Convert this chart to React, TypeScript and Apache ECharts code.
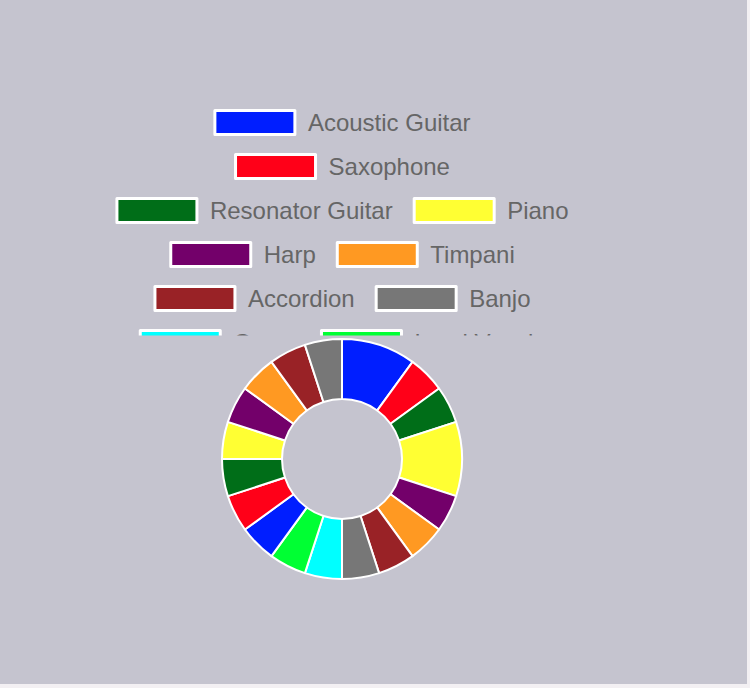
import React, { useEffect, useRef } from "react";
import * as echarts from "echarts";

const instruments = [
  "Acoustic Guitar", "Saxophone", "Resonator Guitar", "Piano", "Harp",
  "Timpani", "Accordion", "Banjo", "Organ", "Lead Vocals",
  "Bass Guitar", "Drums", "Violin", "Cello", "Flute",
  "Trumpet", "Clarinet", "Ukulele",
];
const values = [2, 1, 1, 2, 1, 1, 1, 1, 1, 1, 1, 1, 1, 1, 1, 1, 1, 1];
const palette = [
  "#001eff", "#ff0018", "#006e18", "#ffff33", "#73006a",
  "#ff9922", "#992226", "#777777", "#00ffff", "#00ff33",
];
const legendRows = [
  ["Acoustic Guitar"],
  ["Saxophone"],
  ["Resonator Guitar", "Piano"],
  ["Harp", "Timpani"],
  ["Accordion", "Banjo"],
  ["Organ", "Lead Vocals"],
];

const BG = "#c5c4cf";

export default function App() {
  const ref = useRef<HTMLDivElement>(null);
  useEffect(() => {
    document.body.style.margin = "0";
    document.body.style.background = "#f3f0f3";
    const chart = echarts.init(ref.current!, null, { renderer: "svg" });
    const data = instruments.map((n, i) => ({
      name: n,
      value: values[i],
      itemStyle: { color: palette[i % palette.length] },
    }));
    chart.setOption({
      animation: false,
      backgroundColor: BG,
      legend: legendRows.map((row, r) => ({
        data: row,
        left: "center",
        top: 104 + r * 44,
        orient: "horizontal",
        itemWidth: 80,
        itemHeight: 24,
        itemGap: 20,
        icon: "rect",
        selectedMode: false,
        itemStyle: { borderColor: "#ffffff", borderWidth: 3 },
        textStyle: {
          fontFamily: "Liberation Sans, Arial, sans-serif",
          fontSize: 24,
          color: "#666666",
          padding: [0, 0, 0, 8],
        },
        z: 4,
      })),
      graphic: [
        {
          type: "rect",
          z: 5,
          shape: { x: 60, y: 335.5, width: 560, height: 200 },
          style: { fill: BG },
        },
      ],
      series: [
        {
          type: "pie",
          z: 10,
          center: [342, 459],
          radius: [60, 120],
          startAngle: 90,
          clockwise: true,
          label: { show: false },
          labelLine: { show: false },
          emphasis: { disabled: true },
          itemStyle: { borderColor: "#ffffff", borderWidth: 2 },
          data,
        },
      ],
    });
    return () => chart.dispose();
  }, []);
  return (
    <div style={{ position: "fixed", left: 0, top: 0, width: 747, height: 684, background: BG }}>
      <div ref={ref} style={{ width: 684, height: 684 }} />
    </div>
  );
}
